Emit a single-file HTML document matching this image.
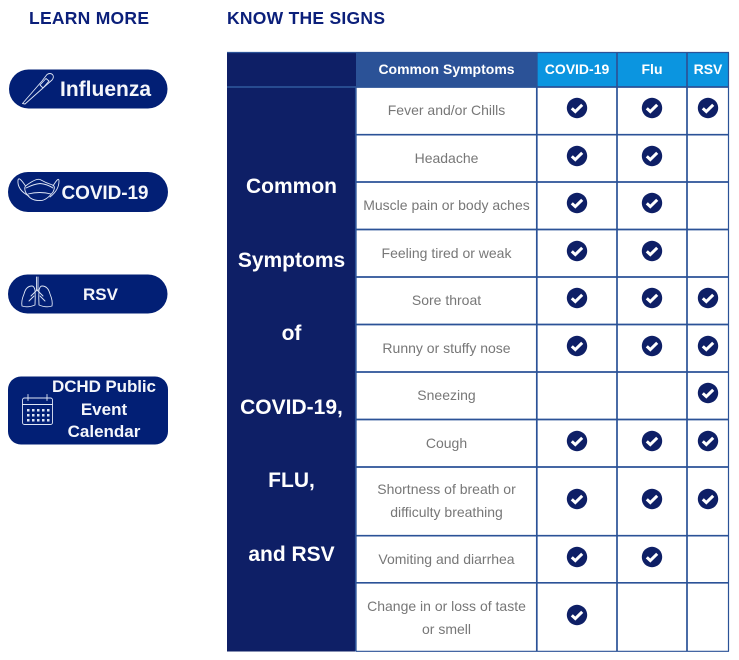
<!DOCTYPE html>
<html><head><meta charset="utf-8"><style>
html,body{margin:0;padding:0;background:#fff;width:739px;height:660px;overflow:hidden}
svg{display:block}
text{font-family:"Liberation Sans",sans-serif}
.b{font-weight:700;fill:#f4f6fb;text-anchor:middle}
.h{font-weight:700;fill:#fff;text-anchor:middle;font-size:14px}
.l{font-weight:700;fill:#fff;text-anchor:middle;font-size:21px}
.c{fill:#777;text-anchor:middle;font-size:14px}
.i{fill:none;stroke:#dfe6f5;stroke-width:.9;stroke-linecap:round;stroke-linejoin:round}
</style></head><body>
<svg width="739" height="660" viewBox="0 0 739 660" xmlns="http://www.w3.org/2000/svg">
<defs>
<g id="k"><circle r="10.200" fill="#0e1f66"/><path d="M-5.200 0.300L-1.700 3.600L5.200 -3.200" fill="none" stroke="#fff" stroke-width="3"/></g>
</defs>
<text x="89" y="24" text-anchor="middle" font-weight="700" font-size="17.500px" fill="#0b1f7a" textLength="120">LEARN MORE</text>
<text x="306" y="24" text-anchor="middle" font-weight="700" font-size="17.500px" fill="#0b1f7a" textLength="158">KNOW THE SIGNS</text>

<rect x="9" y="69.500" width="158.500" height="39" rx="19.500" fill="#021f75"/>
<g class="i">
<path d="M22.500 103.500L42 81L47 74.500Q50 72.500 52.500 74.500Q54.500 77 52 80L25 104Z"/>
<path d="M40 85L46 78.500L49 81L43 88Z"/>
</g>
<text class="b" x="105.500" y="96" font-size="21px" textLength="91">Influenza</text>

<rect x="8" y="172" width="160" height="40" rx="20" fill="#021f75"/>
<g class="i">
<path d="M25.500 186Q36 178 40 179.500Q46 183 52.500 185Q56 186 53 192Q46 201 40 200.500Q30 201 25.500 192Q24 188 25.500 186Z"/>
<path d="M25.500 186Q19 176 18 180Q17 190 29 196M53 186Q59 176 59 181Q59 190 50 197"/>
<path d="M26 188Q34 184 40 183.500Q47 184 53 188M28 194Q40 191 51 194"/>
</g>
<text class="b" x="105" y="199" font-size="19px" textLength="87">COVID-19</text>

<rect x="8" y="274.500" width="159.500" height="39" rx="19.500" fill="#021f75"/>
<g class="i">
<path d="M36.500 277V290M38 277V290M37 290L31 296M37 290L43 296M34 296L29 301M40 296L45 301"/>
<path d="M32 286Q26 286 24 294Q21 301 22 306Q28 308 35 305Q35.500 297 35 290Q34 286 32 286Z"/>
<path d="M42 286Q48 286 50 294Q53 301 52 306Q46 308 39 305Q38.500 297 39 290Q40 286 42 286Z"/>
</g>
<text class="b" x="100.500" y="300" font-size="17px" textLength="35">RSV</text>

<rect x="8" y="376.500" width="160" height="68" rx="13" fill="#021f75"/>
<g class="i">
<rect x="22.500" y="398" width="30" height="26.500" rx="2"/>
<path d="M22.500 404.500H52.500M28 394.500V400.500M47 394.500V400.500"/>
</g>
<g fill="#dfe6f5">
<rect x="27" y="409" width="2.500" height="2.500"/><rect x="32" y="409" width="2.500" height="2.500"/><rect x="37" y="409" width="2.500" height="2.500"/><rect x="42" y="409" width="2.500" height="2.500"/><rect x="47" y="409" width="2.500" height="2.500"/>
<rect x="27" y="414" width="2.500" height="2.500"/><rect x="32" y="414" width="2.500" height="2.500"/><rect x="37" y="414" width="2.500" height="2.500"/><rect x="42" y="414" width="2.500" height="2.500"/><rect x="47" y="414" width="2.500" height="2.500"/>
<rect x="27" y="419" width="2.500" height="2.500"/><rect x="32" y="419" width="2.500" height="2.500"/><rect x="37" y="419" width="2.500" height="2.500"/><rect x="42" y="419" width="2.500" height="2.500"/><rect x="47" y="419" width="2.500" height="2.500"/>
</g>
<text class="b" x="104" y="392" font-size="17px" textLength="104">DCHD Public</text>
<text class="b" x="104" y="415" font-size="17px">Event</text>
<text class="b" x="104" y="437" font-size="17px">Calendar</text>

<!-- table fills -->
<rect x="227" y="52.500" width="129" height="599" fill="#0e1f66"/>
<rect x="356" y="52.500" width="181" height="35" fill="#2b5297"/>
<rect x="537" y="52.500" width="192" height="35" fill="#0b95e0"/>

<!-- grid -->
<g stroke="#2b5297" fill="none">
<path stroke-width="1.700" d="M227 87H356"/>
<path stroke-width="1.700" d="M356 87H729M356 134.700H729M356 182H729M356 229.500H729M356 277H729M356 324.500H729M356 372H729M356 419.500H729M356 467H729M356 535.700H729M356 582.800H729"/>
<path stroke-width="1.200" d="M356 651.300H729M227 52.500H729M728.500 52.500V651.500"/>
<path stroke-width="1.700" d="M536.800 52.500V651.500M617 52.500V651.500M687 52.500V651.500"/>
<path stroke-width="1.700" d="M355.800 87V651.500"/>
</g>

<text class="h" x="446.500" y="74">Common Symptoms</text>
<text class="h" x="577" y="74">COVID-19</text>
<text class="h" x="652" y="74">Flu</text>
<text class="h" x="708" y="74">RSV</text>

<text class="l" x="291.500" y="193">Common</text>
<text class="l" x="291.500" y="267">Symptoms</text>
<text class="l" x="291.500" y="340">of</text>
<text class="l" x="291.500" y="414">COVID-19,</text>
<text class="l" x="291.500" y="487">FLU,</text>
<text class="l" x="291.500" y="561">and RSV</text>

<text class="c" x="446.500" y="115">Fever and/or Chills</text>
<text class="c" x="446.500" y="163">Headache</text>
<text class="c" x="446.500" y="210">Muscle pain or body aches</text>
<text class="c" x="446.500" y="258">Feeling tired or weak</text>
<text class="c" x="446.500" y="305">Sore throat</text>
<text class="c" x="446.500" y="353">Runny or stuffy nose</text>
<text class="c" x="446.500" y="400">Sneezing</text>
<text class="c" x="446.500" y="448">Cough</text>
<text class="c" x="446.500" y="494">Shortness of breath or</text>
<text class="c" x="446.500" y="517">difficulty breathing</text>
<text class="c" x="446.500" y="564">Vomiting and diarrhea</text>
<text class="c" x="446.500" y="611">Change in or loss of taste</text>
<text class="c" x="446.500" y="634">or smell</text>

<use href="#k" x="577" y="108"/><use href="#k" x="652" y="108"/><use href="#k" x="708" y="108"/>
<use href="#k" x="577" y="156"/><use href="#k" x="652" y="156"/>
<use href="#k" x="577" y="203"/><use href="#k" x="652" y="203"/>
<use href="#k" x="577" y="251"/><use href="#k" x="652" y="251"/>
<use href="#k" x="577" y="298"/><use href="#k" x="652" y="298"/><use href="#k" x="708" y="298"/>
<use href="#k" x="577" y="346"/><use href="#k" x="652" y="346"/><use href="#k" x="708" y="346"/>
<use href="#k" x="708" y="393"/>
<use href="#k" x="577" y="441"/><use href="#k" x="652" y="441"/><use href="#k" x="708" y="441"/>
<use href="#k" x="577" y="499"/><use href="#k" x="652" y="499"/><use href="#k" x="708" y="499"/>
<use href="#k" x="577" y="557"/><use href="#k" x="652" y="557"/>
<use href="#k" x="577" y="615"/>
</svg>
</body></html>
